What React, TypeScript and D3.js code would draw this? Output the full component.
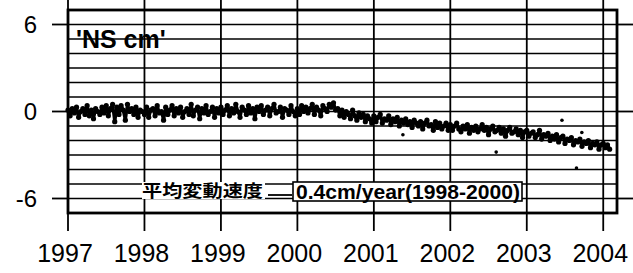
import React from "react";
import * as d3 from "d3";

// NS displacement (cm), about 36 samples per year
const ns1997 = [0.1, -0.3, 0.2, -0.1, 0.3, -0.4, 0.0, 0.2, -0.2, 0.4, -0.3, 0.1, -0.5, 0.2, 0.0, -0.2, 0.3, -0.1, 0.4, -0.3, 0.2, 0.5, -0.7, 0.3, -0.2, 0.4, 0.1, -0.6, 0.5, 0.0, 0.2, -0.2, 0.3, -0.4, 0.1, 0.0];
const ns1998 = [-0.2, 0.3, -0.4, 0.1, 0.2, -0.3, 0.4, -0.1, 0.0, -0.6, 0.3, -0.2, 0.1, 0.4, -0.3, 0.2, -0.1, 0.3, -0.4, 0.0, 0.2, -0.2, 0.5, -0.3, 0.1, 0.3, -0.5, 0.2, -0.1, 0.4, -0.2, 0.0, 0.3, -0.4, 0.2, -0.1];
const ns1999 = [0.3, -0.2, 0.1, 0.4, -0.3, 0.2, -0.1, 0.5, 0.0, -0.4, 0.3, 0.1, -0.2, 0.4, -0.1, 0.2, -0.5, 0.3, 0.0, 0.4, -0.2, 0.1, 0.3, -0.3, 0.2, 0.5, -0.1, 0.0, 0.3, -0.4, 0.2, 0.1, -0.2, 0.4, 0.0, -0.3];
const ns2000 = [0.2, -0.2, 0.4, 0.0, 0.3, -0.1, 0.2, 0.5, -0.2, 0.3, 0.1, -0.3, 0.4, 0.2, 0.0, 0.5, 0.3, 0.6, 0.1, 0.2, -0.3, 0.1, -0.4, 0.0, -0.2, -0.5, 0.1, -0.3, -0.6, -0.1, -0.4, -0.2, -0.7, -0.3, -0.5, -0.8];
const ns2001 = [-0.3, -0.7, -0.4, -0.2, -0.8, -0.5, -0.6, -0.3, -0.9, -0.5, -0.7, -0.4, -1.0, -0.6, -0.8, -0.5, -0.9, -0.7, -1.1, -0.6, -0.8, -1.0, -0.7, -1.2, -0.8, -0.6, -1.0, -0.9, -1.3, -0.7, -1.1, -0.8, -1.2, -1.0, -0.8, -1.3];
const ns2002 = [-0.9, -1.3, -1.0, -0.8, -1.2, -1.4, -1.0, -1.2, -0.9, -1.5, -1.1, -1.3, -1.0, -1.4, -1.2, -0.9, -1.3, -1.1, -1.6, -1.2, -1.0, -1.4, -1.3, -1.1, -1.5, -1.2, -1.7, -1.3, -1.1, -1.5, -1.4, -1.2, -1.6, -1.3, -1.8, -1.4];
const ns2003 = [-1.3, -1.7, -1.5, -1.4, -1.8, -1.6, -1.3, -1.9, -1.6, -1.7, -1.5, -2.0, -1.7, -1.9, -1.6, -2.1, -1.8, -1.7, -2.2, -1.9, -2.0, -1.8, -2.3, -2.0, -2.1, -1.9, -2.4, -2.1, -2.2, -2.0, -2.5, -2.2, -2.3, -2.1, -2.6, -2.3];
const ns2004 = [-2.2, -2.5, -2.3, -2.6];

const yearly: [number, number[]][] = [
  [1997, ns1997], [1998, ns1998], [1999, ns1999], [2000, ns2000],
  [2001, ns2001], [2002, ns2002], [2003, ns2003], [2004, ns2004],
];

// scattered points away from the band: [year, cm]
const outliers: [number, number][] = [
  [2003.46, -0.6], [2003.72, -1.45], [2003.65, -3.9], [2002.6, -2.8], [2001.38, -1.6],
];

const yearTicks = [1997, 1998, 1999, 2000, 2001, 2002, 2003, 2004];
const yLabelTicks = [6, 0, -6];
const yGrid = d3.range(-7, 8);

const W = 633;
const H = 273;
const font = "'Liberation Sans', Arial, sans-serif";

export default function App() {
  const x = d3.scaleLinear().domain([1997, 2004.18]).range([68, 617]);
  const y = d3.scaleLinear().domain([-7, 7]).range([213, 10]);

  const points: [number, number][] = [];
  yearly.forEach(([yr, vals]) => {
    vals.forEach((v, i) => points.push([yr + i / 36, v]));
  });

  // daily points are so dense they merge into a band; a zigzag through them fills it in
  const band = d3
    .line<[number, number]>()
    .x((d) => x(d[0]))
    .y((d) => y(d[1]))(points);

  const [x0, x1] = x.range();
  const [yb, yt] = y.range();

  return (
    <svg width={W} height={H} style={{ position: "absolute", left: 0, top: 0, background: "#fff" }}>
      {/* horizontal grid */}
      {yGrid.map((g) => (
        <line key={"h" + g} x1={x0} x2={x1} y1={y(g)} y2={y(g)} stroke="#000" strokeWidth={1.6} />
      ))}
      {/* vertical year lines, running past the frame */}
      {yearTicks.map((t) => (
        <line key={"v" + t} x1={x(t)} x2={x(t)} y1={0} y2={yb + 18} stroke="#000" strokeWidth={1.8} />
      ))}
      {/* y ticks both sides */}
      {yLabelTicks.map((t) => (
        <g key={"yt" + t}>
          <line x1={x0 - 16} x2={x0} y1={y(t)} y2={y(t)} stroke="#000" strokeWidth={1.8} />
          <line x1={x1} x2={x1 + 16} y1={y(t)} y2={y(t)} stroke="#000" strokeWidth={1.8} />
          <text x={37} y={y(t)} dy="0.36em" textAnchor="end" fontFamily={font} fontSize={24}>
            {t}
          </text>
        </g>
      ))}
      {/* data */}
      <path d={band ?? ""} fill="none" stroke="#000" strokeWidth={3.2} strokeLinejoin="round" />
      {points.map(([t, v], i) => (
        <circle key={"p" + i} cx={x(t)} cy={y(v)} r={2.6} fill="#000" />
      ))}
      {outliers.map(([t, v], i) => (
        <circle key={"o" + i} cx={x(t)} cy={y(v)} r={1.8} fill="#000" />
      ))}
      {/* frame */}
      <rect x={x0} y={yt} width={x1 - x0} height={yb - yt} fill="none" stroke="#000" strokeWidth={2.8} />
      {/* year labels */}
      {yearTicks.map((t) => (
        <text key={"xl" + t} x={x(t) - 3} y={262} textAnchor="middle" fontFamily={font} fontSize={25}>
          {t}
        </text>
      ))}
      {/* annotations */}
      <text x={76} y={48} fontFamily={font} fontSize={25} fontWeight="bold">
        'NS cm'
      </text>
      <rect x={142} y={182} width={123} height={17} fill="#fff" />
      <text x={142} y={197} fontFamily="'Noto Sans CJK JP', sans-serif" fontSize={17} fontWeight="bold" textLength={121} lengthAdjust="spacingAndGlyphs">
        平均変動速度
      </text>
      <line x1={268} x2={292} y1={195} y2={195} stroke="#000" strokeWidth={1.8} />
      <rect x={293} y={182} width={229} height={19} fill="#fff" stroke="#000" strokeWidth={1.6} />
      <text x={296} y={199} fontFamily={font} fontSize={20} fontWeight="bold" textLength={224} lengthAdjust="spacingAndGlyphs">
        0.4cm/year(1998-2000)
      </text>
    </svg>
  );
}
